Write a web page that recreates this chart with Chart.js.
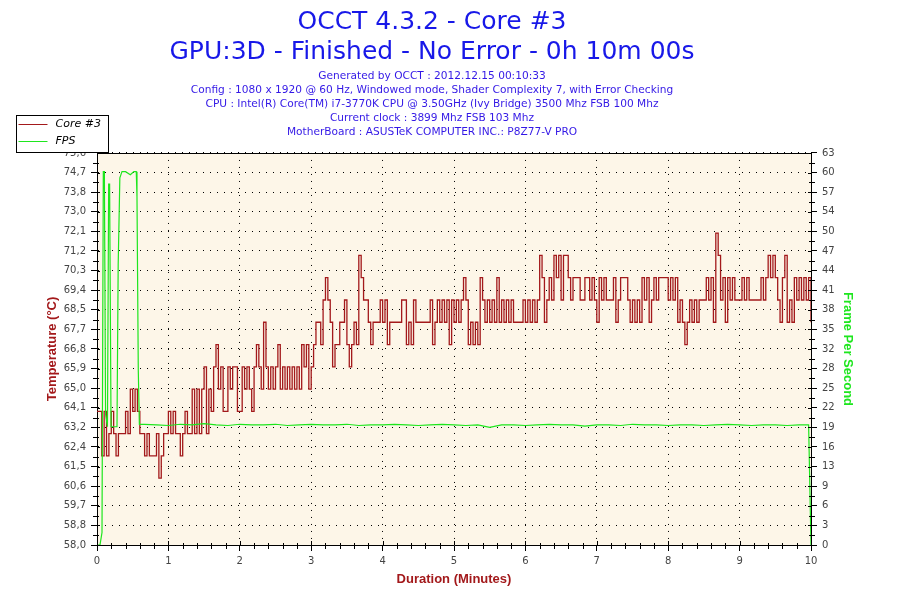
<!DOCTYPE html>
<html>
<head>
<meta charset="utf-8">
<script src="https://cdn.jsdelivr.net/npm/chart.js@4"></script>
<style>
  html, body { margin: 0; padding: 0; background: #fff; }
  #wrap { width: 900px; height: 600px; position: relative; }
</style>
</head>
<body>
<div id="wrap"><canvas id="chart"></canvas></div>
<script>
// Core #3 temperature, one reading every 2 seconds (0 .. 600 s)
const tempStepSeconds = 2;
const tempValues = [
  64,64,62,64,62,63,64,63,62,63,
  63,63,64,63,65,64,65,64,63,63,
  62,63,62,62,62,63,61,62,63,63,
  64,63,64,63,63,62,63,64,63,63,
  65,63,65,63,65,66,63,65,64,66,
  67,65,66,64,64,66,65,66,66,64,
  64,66,65,66,65,64,66,67,66,65,
  68,66,65,66,65,66,67,65,66,65,
  66,65,66,65,66,65,67,66,67,65,
  66,67,68,68,67,69,70,69,68,66,
  67,67,68,68,69,67,66,67,68,67,
  71,70,69,69,68,67,68,68,68,69,
  68,69,67,68,68,68,68,68,69,69,
  67,68,67,69,68,68,68,68,68,68,
  69,67,68,69,68,69,68,69,67,69,
  68,69,68,69,70,69,67,68,67,68,
  67,70,69,68,69,68,69,68,70,68,
  69,68,69,68,69,68,68,68,68,69,
  68,69,68,69,68,69,71,70,68,69,
  70,69,71,70,71,69,71,71,70,69,
  70,70,70,69,69,70,70,69,70,69,
  68,70,69,70,69,69,69,70,68,69,
  70,70,70,69,68,69,68,69,68,70,
  69,70,68,69,70,69,70,70,70,70,
  69,70,69,70,68,69,68,67,68,69,
  68,69,68,69,69,69,70,69,70,68,
  72,71,69,70,68,70,69,70,69,69,
  69,70,69,70,69,69,69,69,69,70,
  69,70,71,70,71,70,69,68,70,71,
  68,69,68,70,69,70,69,70,69,70,
  68
];

// FPS readings (seconds, frames per second)
const fpsSeconds = [
  0, 2.5, 4.2, 5.3, 6.2, 7.2, 8.8, 9.8, 10.6, 11.8, 16.8, 17.8, 19.2, 21, 24, 28, 31, 33, 33.6, 34.7, 35.6,
  40, 50, 60, 70, 80, 90, 100, 110, 120, 130, 140, 150, 160, 170, 180, 190, 200, 210, 220, 230,
  240, 250, 260, 270, 280, 290, 300, 310, 320, 330, 340, 350, 360, 370, 380, 390, 400, 410, 420,
  430, 440, 450, 460, 470, 480, 490, 500, 510, 520, 530, 540, 550, 560, 570, 580, 590, 598, 600
];
const fpsValues = [
  0, 0, 2, 60, 60, 21, 19, 58, 58, 19, 19, 45, 59, 60, 60, 59.5, 60, 60, 56, 28, 19.4,
  19.4, 19.3, 19.2, 19.4, 19.3, 19.5, 19.3, 19.2, 19.4, 19.3, 19.3, 19.4, 19.2, 19.3, 19.4, 19.3, 19.3, 19.4, 19.2, 19.3,
  19.3, 19.4, 19.3, 19.2, 19.3, 19.4, 19.3, 19.2, 19.3, 18.9, 19.3, 19.3, 19.2, 19.3, 19.4, 19.3, 19.3, 19.1, 19.3,
  19.3, 19.2, 19.4, 19.3, 19.3, 19.2, 19.3, 19.3, 19.2, 19.3, 19.4, 19.3, 19.2, 19.3, 19.3, 19.2, 19.3, 19.3, 0
];

// axis tick labels as printed by OCCT
const tempTickLabels = ['58,0','58,8','59,7','60,6','61,5','62,4','63,2','64,1','65,0','65,9','66,8',
  '67,7','68,5','69,4','70,3','71,2','72,1','73,0','73,8','74,7','75,6'];
const fpsTickLabels = ['0','3','6','9','13','16','19','22','25','28','32','35','38','41','44','47','50','54','57','60','63'];

const titleLines = ['OCCT 4.3.2 - Core #3', 'GPU:3D - Finished - No Error - 0h 10m 00s'];
const infoLines = [
  'Generated by OCCT : 2012.12.15 00:10:33',
  'Config : 1080 x 1920 @ 60 Hz, Windowed mode, Shader Complexity 7, with Error Checking',
  'CPU : Intel(R) Core(TM) i7-3770K CPU @ 3.50GHz (Ivy Bridge) 3500 Mhz FSB 100 Mhz',
  'Current clock : 3899 Mhz FSB 103 Mhz',
  'MotherBoard : ASUSTeK COMPUTER INC.: P8Z77-V PRO'
];

const RED = '#a3191b';
const GREEN = '#1ee61e';
const TICK_FONT = { family: 'DejaVu Sans', size: 10 };

// cream plot background, top border, minor ticks
const plotFrame = {
  id: 'plotFrame',
  beforeDraw(chart) {
    const { ctx, chartArea: a } = chart;
    ctx.save();
    ctx.fillStyle = '#fff';
    ctx.fillRect(0, 0, chart.width, chart.height);
    ctx.fillStyle = '#fdf6e8';
    ctx.fillRect(a.left, a.top, a.right - a.left, a.bottom - a.top);
    ctx.restore();
  },
  afterDraw(chart) {
    const { ctx, chartArea: a, scales } = chart;
    ctx.save();
    ctx.strokeStyle = '#000';
    ctx.lineWidth = 1;
    const line = (x1, y1, x2, y2) => {
      ctx.beginPath(); ctx.moveTo(x1, y1); ctx.lineTo(x2, y2); ctx.stroke();
    };
    line(a.left, Math.round(a.top) + 0.5, a.right, Math.round(a.top) + 0.5);

    const xs = scales.x;
    xs.ticks.forEach((t, i) => {
      const px = Math.round(xs.getPixelForValue(t.value)) + 0.5;
      line(px, a.bottom - 4, px, a.bottom);
      if (i === xs.ticks.length - 1) return;
      const next = xs.ticks[i + 1].value;
      for (let k = 1; k < 5; k++) {
        const mx = Math.round(xs.getPixelForValue(t.value + (next - t.value) * k / 5)) + 0.5;
        line(mx, a.bottom - 2, mx, a.bottom + 4);
      }
    });
    [['y', -1], ['y1', 1]].forEach(([id, dir]) => {
      const s = scales[id];
      const edge = dir < 0 ? a.left : a.right;
      s.ticks.forEach((t, i) => {
        const py = Math.round(s.getPixelForValue(t.value)) + 0.5;
        line(edge, py, edge - dir * 3, py);
        if (i === s.ticks.length - 1) return;
        const my = Math.round(s.getPixelForValue((t.value + s.ticks[i + 1].value) / 2)) + 0.5;
        line(edge + dir * 4, my, edge - dir * 2, my);
      });
    });
    ctx.restore();
  }
};

// boxed legend in the top-left corner
const cornerLegend = {
  id: 'cornerLegend',
  afterDraw(chart) {
    const { ctx } = chart;
    const box = { left: 16.5, top: 115.5, width: 92, height: 37 };
    ctx.save();
    ctx.fillStyle = '#fff';
    ctx.fillRect(box.left, box.top, box.width, box.height);
    ctx.strokeStyle = '#000';
    ctx.lineWidth = 1;
    ctx.strokeRect(box.left, box.top, box.width, box.height);
    ctx.font = 'italic 11px "DejaVu Sans"';
    ctx.textBaseline = 'middle';
    chart.data.datasets.forEach((ds, i) => {
      const y = Math.round(box.top + 8 + i * 17) + 0.5;
      ctx.strokeStyle = ds.borderColor;
      ctx.beginPath();
      ctx.moveTo(box.left + 2, y);
      ctx.lineTo(box.left + 31, y);
      ctx.stroke();
      ctx.fillStyle = '#000';
      ctx.fillText(ds.label, box.left + 39, y);
    });
    ctx.restore();
  }
};

new Chart(document.getElementById('chart'), {
  type: 'line',
  data: {
    datasets: [
      {
        label: 'Core #3',
        yAxisID: 'y',
        data: tempValues.map((v, i) => ({ x: i * tempStepSeconds / 60, y: v })),
        borderColor: RED,
        borderWidth: 1.3,
        stepped: true,
        pointRadius: 0,
        order: 1
      },
      {
        label: 'FPS',
        yAxisID: 'y1',
        data: fpsSeconds.map((s, i) => ({ x: s / 60, y: fpsValues[i] })),
        borderColor: GREEN,
        borderWidth: 1.2,
        pointRadius: 0,
        order: 0
      }
    ]
  },
  options: {
    responsive: true,
    maintainAspectRatio: false,
    animation: false,
    // right padding shifts the centred titles left, as in OCCT
    layout: { padding: { left: 0, top: 0, bottom: 0, right: 36 } },
    plugins: {
      legend: { display: false },
      tooltip: { enabled: false },
      title: {
        display: true,
        text: titleLines,
        color: '#1818e8',
        font: { family: 'DejaVu Sans', size: 25, weight: 'normal', lineHeight: 1.2 },
        padding: { top: 7, bottom: 2 }
      },
      subtitle: {
        display: true,
        text: infoLines,
        color: '#3318e6',
        font: { family: 'DejaVu Sans', size: 10.6, lineHeight: 1.32 },
        padding: { top: 0, bottom: 14 }
      }
    },
    scales: {
      x: {
        type: 'linear',
        min: 0,
        max: 10,
        ticks: { stepSize: 1, color: '#444', font: TICK_FONT, padding: 4, maxRotation: 0, autoSkip: false },
        grid: { color: '#000', lineWidth: 1, tickLength: 6, tickColor: '#000' },
        border: { color: '#000', width: 1, dash: [1, 6] },
        title: {
          display: true,
          text: 'Duration (Minutes)',
          color: RED,
          font: { family: 'Liberation Sans', size: 13, weight: 'bold' },
          padding: { top: 0, bottom: 13 }
        },
        afterFit(s) { s.height = 55; }
      },
      y: {
        position: 'left',
        min: 58,
        max: 75.6,
        ticks: {
          stepSize: 0.88,
          autoSkip: false,
          color: '#444',
          font: TICK_FONT,
          padding: 5,
          callback: (v, i) => tempTickLabels[i]
        },
        grid: { color: '#000', lineWidth: 1, tickLength: 6, tickColor: '#000' },
        border: { color: '#000', width: 1, dash: [1, 6] },
        title: {
          display: true,
          text: 'Temperature (°C)',
          color: RED,
          font: { family: 'Liberation Sans', size: 13, weight: 'bold' },
          padding: { top: 45, bottom: 0 }
        },
        afterFit(s) { s.width = 97; }
      },
      y1: {
        position: 'right',
        min: 0,
        max: 63,
        ticks: {
          stepSize: 3.15,
          autoSkip: false,
          color: '#444',
          font: TICK_FONT,
          padding: 5,
          callback: (v, i) => fpsTickLabels[i]
        },
        grid: { drawOnChartArea: false, tickLength: 6, tickColor: '#000' },
        border: { color: '#000', width: 1 },
        title: {
          display: true,
          text: 'Frame Per Second',
          color: GREEN,
          font: { family: 'Liberation Sans', size: 13, weight: 'bold' },
          padding: { top: 9, bottom: 0 }
        },
        afterFit(s) { s.width = 53; }
      }
    }
  },
  plugins: [plotFrame, cornerLegend]
});
</script>
</body>
</html>
